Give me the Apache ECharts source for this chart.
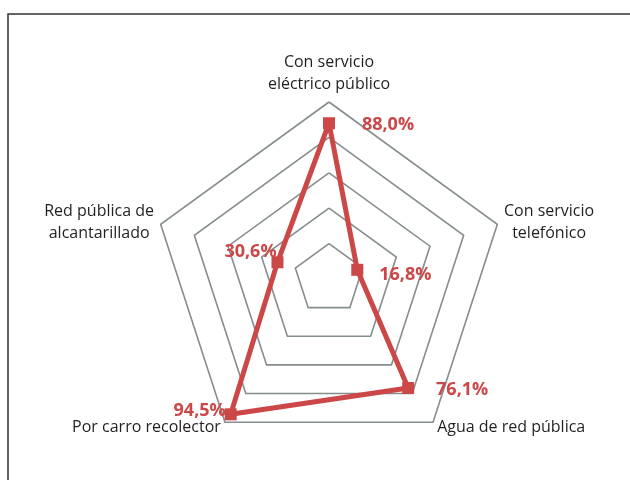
<!DOCTYPE html>
<html>
<head>
<meta charset="utf-8">
<title>Radar servicios</title>
<script src="https://cdn.jsdelivr.net/npm/echarts@6/dist/echarts.min.js"></script>
<style>
  html, body { margin: 0; padding: 0; background: #fff; }
</style>
</head>
<body>
<div id="main" style="width:630px;height:480px;"></div>
<script type="text/javascript">
// ejes del radar (orden antihorario desde arriba)
var indicadores = ['Con servicio\neléctrico público', 'Red pública de\nalcantarillado', 'Por carro recolector', 'Agua de red pública', 'Con servicio\ntelefónico'];
var valores = [88.0, 30.6, 94.5, 76.1, 16.8];
var etiquetas = ['88,0%', '30,6%', '94,5%', '76,1%', '16,8%'];
// lado de cada etiqueta respecto del punto
var lados = ['r1', 'l1', 'l2', 'r2', 'r3'];

var rojo = '#cc4747';
var myChart = echarts.init(document.getElementById('main'));

function estilo(pad) {
  return { padding: pad, color: rojo, fontWeight: 'bold', fontSize: 18, fontFamily: 'Open Sans' };
}

var option = {
  animation: false,
  graphic: [{
    type: 'rect',
    shape: { x: 8, y: 14, width: 700, height: 600 },
    style: { fill: 'none', stroke: '#333', lineWidth: 1.5 }
  }],
  radar: {
    center: [329, 279],
    radius: 177,
    shape: 'polygon',
    splitNumber: 5,
    indicator: indicadores.map(function (n) { return { name: n, max: 100, min: 0 }; }),
    axisName: {
      color: '#231f20',
      fontFamily: 'Open Sans',
      fontSize: 16,
      lineHeight: 22,
      formatter: function (n) {
        // cada renglón centrado
        return n.split('\n').map(function (s) { return '{c|' + s + '}'; }).join('\n');
      },
      rich: {
        c: { align: 'center', color: '#231f20', fontFamily: 'Open Sans', fontSize: 16, lineHeight: 22 }
      }
    },
    nameGap: 7,
    axisLine: { show: false },
    axisTick: { show: false },
    splitArea: { show: false },
    splitLine: { lineStyle: { color: '#858d8d', width: 1.6 } }
  },
  series: [{
    type: 'radar',
    symbol: 'rect',
    symbolSize: 12,
    lineStyle: { color: rojo, width: 5 },
    itemStyle: { color: rojo },
    label: {
      show: true,
      position: 'inside',
      color: rojo,
      fontFamily: 'Open Sans',
      fontWeight: 'bold',
      fontSize: 18,
      formatter: function (p) {
        var i = valores.indexOf(p.value);
        return '{' + lados[i] + '|' + etiquetas[i] + '}';
      },
      rich: {
        r1: estilo([4, 0, 0, 118]),
        r2: estilo([4, 0, 0, 108]),
        r3: estilo([10, 0, 0, 96]),
        l1: estilo([0, 54, 20, 0]),
        l2: estilo([0, 62, 6, 0])
      }
    },
    data: [{ value: valores }]
  }]
};

myChart.setOption(option);
</script>
</body>
</html>
